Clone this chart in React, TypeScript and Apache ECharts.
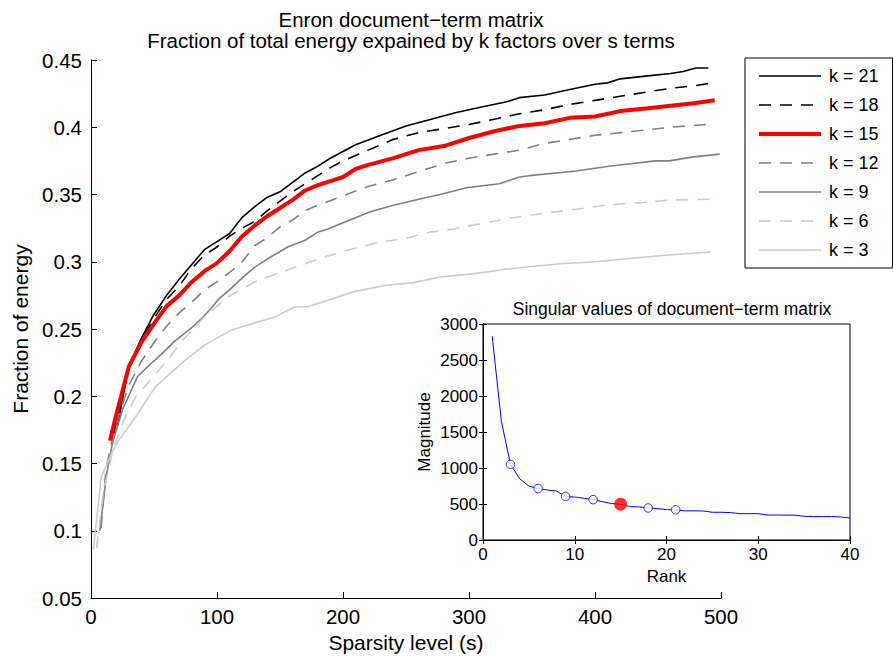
import React, { useEffect, useRef } from "react";
import * as echarts from "echarts";

// Fraction of energy vs sparsity level s, one list of [s, value] per k
const k21: [number, number][] = [[21,0.178],[30,0.222],[40,0.243],[50,0.261],[60,0.275],[70,0.287],[80,0.298],[90,0.309],[100,0.315],[110,0.321],[120,0.333],[130,0.341],[140,0.348],[150,0.352],[160,0.359],[170,0.366],[180,0.371],[190,0.377],[200,0.382],[210,0.387],[230,0.394],[250,0.401],[270,0.406],[290,0.411],[310,0.415],[330,0.419],[340,0.422],[360,0.424],[380,0.428],[400,0.432],[410,0.433],[420,0.436],[440,0.438],[460,0.44],[470,0.4415],[480,0.444],[490,0.444]];
const k18: [number, number][] = [[18,0.172],[30,0.221],[40,0.241],[50,0.258],[60,0.272],[70,0.282],[80,0.295],[90,0.305],[100,0.311],[110,0.319],[120,0.325],[130,0.33],[140,0.338],[150,0.345],[160,0.352],[170,0.358],[180,0.364],[190,0.37],[200,0.375],[220,0.383],[240,0.391],[260,0.396],[280,0.399],[300,0.402],[320,0.406],[340,0.41],[360,0.413],[380,0.417],[400,0.42],[420,0.423],[440,0.426],[460,0.429],[480,0.431],[490,0.4325]];
const k15: [number, number][] = [[15,0.167],[20,0.186],[30,0.222],[40,0.24],[50,0.254],[60,0.267],[70,0.275],[80,0.285],[90,0.293],[100,0.299],[110,0.308],[120,0.319],[130,0.327],[140,0.334],[150,0.34],[160,0.346],[170,0.353],[180,0.357],[190,0.36],[200,0.363],[210,0.369],[220,0.372],[240,0.377],[260,0.383],[280,0.386],[300,0.392],[320,0.397],[340,0.401],[360,0.403],[380,0.407],[400,0.408],[420,0.412],[440,0.414],[460,0.416],[480,0.418],[495,0.42]];
const k12: [number, number][] = [[8,0.102],[12,0.147],[20,0.18],[30,0.208],[40,0.226],[50,0.24],[60,0.252],[70,0.262],[80,0.27],[90,0.279],[100,0.285],[110,0.292],[120,0.3],[130,0.312],[140,0.318],[150,0.326],[160,0.331],[170,0.338],[180,0.342],[200,0.349],[220,0.356],[240,0.361],[260,0.367],[280,0.373],[300,0.377],[320,0.38],[340,0.383],[360,0.388],[380,0.391],[400,0.394],[420,0.396],[440,0.398],[460,0.4],[488,0.402]];
const k9: [number, number][] = [[7,0.1],[12,0.14],[17,0.165],[25,0.19],[37,0.2147],[45,0.222],[51,0.227],[60,0.235],[66,0.2406],[80,0.251],[88,0.258],[96,0.266],[101,0.272],[111,0.28],[120,0.288],[130,0.296],[140,0.302],[156,0.311],[170,0.316],[180,0.322],[188,0.3244],[200,0.329],[208,0.332],[221,0.337],[240,0.342],[261,0.3466],[277,0.35],[298,0.355],[324,0.358],[340,0.363],[348,0.364],[385,0.3675],[411,0.371],[448,0.375],[459,0.375],[478,0.378],[499,0.38]];
const k6: [number, number][] = [[4.5,0.087],[10,0.13],[18,0.162],[25,0.18],[35,0.199],[49,0.214],[63,0.2295],[73,0.242],[89,0.258],[104,0.27],[109,0.274],[130,0.285],[151,0.2924],[170,0.2985],[185,0.3035],[208,0.3096],[229,0.3146],[248,0.317],[269,0.322],[287,0.3244],[308,0.328],[330,0.332],[359,0.336],[385,0.339],[411,0.3424],[438,0.344],[459,0.3459],[498,0.3466]];
const k3: [number, number][] = [[2,0.0865],[8,0.1395],[16,0.157],[22,0.167],[37.5,0.1876],[51,0.207],[72,0.2246],[90,0.238],[111,0.249],[133,0.2554],[146,0.259],[162,0.2665],[172,0.2665],[188,0.2714],[208,0.2776],[234,0.2825],[256,0.2845],[277,0.2887],[303,0.291],[332,0.2948],[372,0.2985],[398,0.2998],[425,0.3022],[454,0.3047],[472,0.306],[492,0.3072]];

// Singular values (rank 1..40)
const ranks: number[] = Array.from({ length: 40 }, (_, i) => i + 1);
const singularValues: number[] = [2830,1650,1050,850,750,715,695,680,605,597,580,560,533,507,497,463,460,445,437,422,420,405,405,403,385,385,380,366,366,366,347,347,345,345,330,325,325,325,320,305];
const markedRanks: number[] = [3, 6, 9, 12, 18, 21];
const selectedRank = 15;

const seriesNames = ["k = 21", "k = 18", "k = 15", "k = 12", "k = 9", "k = 6", "k = 3"];
const yTicks = [0.05, 0.1, 0.15, 0.2, 0.25, 0.3, 0.35, 0.4, 0.45];

const FONT = "'Liberation Sans', Arial, Helvetica, sans-serif";

export default function App() {
  const ref = useRef<HTMLDivElement>(null);
  useEffect(() => {
    if (!ref.current) return;
    const chart = echarts.init(ref.current, undefined, { renderer: "svg" });
    const dash = [12, 9];
    const styles = [
      { data: k21, color: "#000000", width: 1.6, type: "solid" as any },
      { data: k18, color: "#000000", width: 1.6, type: dash as any },
      { data: k15, color: "#ff0000", width: 4, type: "solid" as any },
      { data: k12, color: "#808080", width: 1.6, type: dash as any },
      { data: k9, color: "#808080", width: 1.6, type: "solid" as any },
      { data: k6, color: "#cccccc", width: 1.6, type: dash as any },
      { data: k3, color: "#cccccc", width: 1.6, type: "solid" as any },
    ];
    const mainSeries = styles.map((s, i) => ({
      name: seriesNames[i],
      type: "line",
      xAxisIndex: 0,
      yAxisIndex: 0,
      data: s.data,
      symbol: "none",
      z: i === 2 ? 5 : 3,
      lineStyle: { color: s.color, width: s.width, type: s.type },
      itemStyle: { color: s.color },
    }));
    const axisCommon = {
      axisLine: { show: true, lineStyle: { color: "#000", width: 1 } },
      axisTick: { show: true, inside: true, length: 6, lineStyle: { color: "#000" } },
      splitLine: { show: false },
    };
    const insetTick = { show: true, inside: true, length: 4, lineStyle: { color: "#000" } };
    chart.setOption({
      animation: false,
      backgroundColor: "#ffffff",
      textStyle: { fontFamily: FONT, color: "#000" },
      title: [
        {
          text: "Enron document−term matrix\nFraction of total energy expained by k factors over s terms",
          left: 406,
          top: 4,
          textAlign: "center",
          textStyle: { fontSize: 20.5, fontWeight: "normal", color: "#000", lineHeight: 21, fontFamily: FONT },
        },
        {
          text: "Singular values of document−term matrix",
          left: 667,
          top: 295,
          textAlign: "center",
          textStyle: { fontSize: 17.5, fontWeight: "normal", color: "#000", fontFamily: FONT },
        },
      ],
      legend: {
        data: seriesNames.map((n, i) => ({
          name: n,
          lineStyle: { width: styles[i].width, color: styles[i].color, type: styles[i].type },
        })),
        orient: "vertical",
        left: 745,
        top: 58,
        itemWidth: 62,
        itemHeight: 18,
        itemGap: 11,
        padding: [9, 14, 9, 12],
        borderColor: "#000",
        borderWidth: 1,
        backgroundColor: "#fff",
        itemStyle: { opacity: 0 },
        textStyle: { fontSize: 18, color: "#000", fontFamily: FONT, padding: [0, 0, 0, 3] },
      },
      grid: [
        { left: 91, top: 60, width: 630, height: 541 },
        { left: 483, top: 324, width: 367, height: 216, show: true, backgroundColor: "#fff", borderColor: "#000", borderWidth: 1, z: 10 },
      ],
      xAxis: [
        {
          ...axisCommon,
          gridIndex: 0,
          type: "value",
          min: 0,
          max: 500,
          interval: 100,
          name: "Sparsity level (s)",
          nameLocation: "middle",
          nameGap: 34,
          nameTextStyle: { fontSize: 21, color: "#000", fontFamily: FONT },
          axisLabel: { fontSize: 20.5, color: "#000", margin: 8, fontFamily: FONT },
        },
        {
          ...axisCommon,
          gridIndex: 1,
          type: "value",
          min: 0,
          max: 40,
          interval: 10,
          z: 11,
          name: "Rank",
          nameLocation: "middle",
          nameGap: 28,
          nameTextStyle: { fontSize: 17, color: "#000", fontFamily: FONT },
          axisTick: insetTick,
          axisLabel: { fontSize: 17, color: "#000", margin: 6, fontFamily: FONT },
        },
        {
          ...axisCommon,
          gridIndex: 1,
          type: "value",
          position: "top",
          min: 0,
          max: 40,
          interval: 10,
          z: 11,
          axisTick: insetTick,
          axisLabel: { show: false },
        },
      ],
      yAxis: [
        {
          ...axisCommon,
          gridIndex: 0,
          type: "value",
          min: 0.05,
          max: 0.45,
          interval: 0.05,
          name: "Fraction of energy",
          nameLocation: "middle",
          nameGap: 58,
          nameTextStyle: { fontSize: 21, color: "#000", fontFamily: FONT },
          axisLabel: {
            fontSize: 20.5,
            color: "#000",
            margin: 9,
            fontFamily: FONT,
            formatter: (v: number) => {
              const t = yTicks.find((x) => Math.abs(x - v) < 1e-6);
              return String(t !== undefined ? t : Number(v.toFixed(2)));
            },
          },
        },
        {
          ...axisCommon,
          gridIndex: 1,
          type: "value",
          min: 0,
          max: 3000,
          interval: 500,
          z: 11,
          name: "Magnitude",
          nameLocation: "middle",
          nameGap: 50,
          nameTextStyle: { fontSize: 17, color: "#000", fontFamily: FONT },
          axisTick: insetTick,
          axisLabel: { fontSize: 17, color: "#000", margin: 5, fontFamily: FONT, formatter: (v: number) => String(v) },
        },
        {
          ...axisCommon,
          gridIndex: 1,
          type: "value",
          position: "right",
          min: 0,
          max: 3000,
          interval: 500,
          z: 11,
          axisTick: insetTick,
          axisLabel: { show: false },
        },
      ],
      series: [
        ...mainSeries,
        {
          name: "singular",
          type: "line",
          xAxisIndex: 1,
          yAxisIndex: 1,
          z: 12,
          symbol: "none",
          data: ranks.map((r, i) => [r, singularValues[i]]),
          lineStyle: { color: "#0000ff", width: 1 },
        },
        {
          name: "marked",
          type: "scatter",
          xAxisIndex: 1,
          yAxisIndex: 1,
          z: 13,
          symbol: "circle",
          symbolSize: 8.5,
          data: markedRanks.map((r) => [r, singularValues[r - 1]]),
          itemStyle: { color: "#ffffff", borderColor: "#0000ff", borderWidth: 1 },
        },
        {
          name: "selected",
          type: "scatter",
          xAxisIndex: 1,
          yAxisIndex: 1,
          z: 14,
          symbol: "circle",
          symbolSize: 13,
          data: [[selectedRank, singularValues[selectedRank - 1]]],
          itemStyle: { color: "#ff0000" },
        },
      ],
    });
    return () => chart.dispose();
  }, []);
  return <div ref={ref} style={{ width: 893, height: 658, position: "absolute", left: 0, top: 0 }} />;
}
